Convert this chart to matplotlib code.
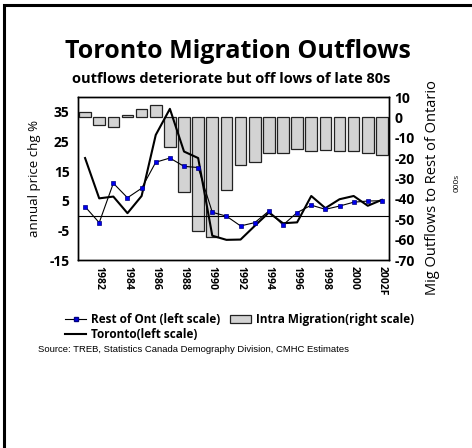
import matplotlib
matplotlib.use("Agg")
import matplotlib.pyplot as plt
import numpy as np
from matplotlib.patches import Rectangle
from matplotlib.lines import Line2D
from matplotlib.patches import Patch

years = ["1981", "1982", "1983", "1984", "1985", "1986", "1987", "1988", "1989", "1990", "1991",
         "1992", "1993", "1994", "1995", "1996", "1997", "1998", "1999", "2000", "2001", "2002F"]
rest_of_ont = [3.0, -2.4, 10.9, 6.0, 9.2, 18.0, 19.4, 16.6, 16.2, 1.1, -0.2,
               -3.5, -2.4, 1.5, -3.2, 1.0, 3.5, 2.1, 3.2, 4.5, 4.9, 5.0]
toronto = [19.4, 5.8, 6.4, 0.8, 6.6, 27.2, 36.0, 21.6, 19.4, -6.8, -8.2,
           -8.1, -3.5, 1.0, -2.6, -2.3, 6.6, 2.5, 5.5, 6.6, 3.3, 5.3]
intra_migration = [2.5, -3.6, -4.7, 1.1, 4.2, 6.2, -14.4, -36.6, -55.8, -58.7, -35.7,
                   -23.5, -21.7, -17.7, -17.7, -15.4, -16.7, -16.2, -16.7, -16.5, -17.3, -18.6]
tick_labels = ["1982", "1984", "1986", "1988", "1990", "1992", "1994", "1996", "1998", "2000", "2002F"]
left_ticks = [-15, -5, 5, 15, 25, 35]
right_ticks = [10, 0, -10, -20, -30, -40, -50, -60, -70]

plt.rcParams['font.family'] = ['Open Sans', 'DejaVu Sans']

fig = plt.figure(figsize=(4.72, 4.48), dpi=100)
W, H = 472, 448

# outer frame (only top and left visible)
fig.patches.append(Rectangle((4 / W, -0.1), 1.2, 1 - 5 / H + 0.1, transform=fig.transFigure,
                             fill=False, edgecolor='black', linewidth=2.2))

ax = fig.add_axes([78 / W, 1 - 260 / H, (389 - 78) / W, (260 - 97) / H])
ax2 = ax.twinx()

x = np.arange(len(years))
ax2.bar(x, intra_migration, width=0.82, color='#d3d3d3', edgecolor='#222222', linewidth=0.9)
ax2.set_ylim(-70, 10)
ax2.set_yticks(right_ticks)
ax2.set_yticklabels([str(t) for t in right_ticks], fontsize=10, fontweight='bold')
ax2.tick_params(axis='y', length=0, pad=4)

ax.set_zorder(ax2.get_zorder() + 1)
ax.patch.set_visible(False)
ax.axhline(0, color='black', linewidth=0.8)
ax.plot(x, toronto, color='black', linewidth=1.5)
ax.plot(x, rest_of_ont, color='black', linewidth=0.8, marker='s', markersize=3.5,
        markerfacecolor='#0000ee', markeredgecolor='#000080', markeredgewidth=0.5)
ax.set_ylim(-15, 40)
ax.set_xlim(-0.5, len(years) - 0.5)
ax.set_yticks(left_ticks)
ax.set_yticklabels([str(t) for t in left_ticks], fontsize=10, fontweight='bold')
ax.tick_params(axis='y', length=0, pad=6)
ax.set_xticks(x[1::2])
ax.set_xticklabels(tick_labels, rotation=270, fontsize=7.5, fontweight='bold')
ax.tick_params(axis='x', length=0, pad=4)
for a in (ax, ax2):
    for s in a.spines.values():
        s.set_linewidth(1.0)
        s.set_color('black')

ax.set_ylabel("annual price chg %", fontsize=9.5, labelpad=6)
fig.text(433 / W, 1 - 188 / H, "Mig Outflows to Rest of Ontario", rotation=90,
         ha='center', va='center', fontsize=10.5)
fig.text(457 / W, 1 - 183 / H, "000s", rotation=90, ha='center', va='center', fontsize=6)

fig.text(238 / W, 1 - 52 / H, "Toronto Migration Outflows", ha='center', va='center',
         fontsize=18, fontweight='bold')
fig.text(231 / W, 1 - 79 / H, "outflows deteriorate but off lows of late 80s", ha='center',
         va='center', fontsize=10.5, fontweight='bold')

handles = [Line2D([], [], color='black', linewidth=0.8, marker='s', markersize=3,
                  markerfacecolor='#0000ee', markeredgecolor='#000080'),
           Line2D([], [], color='black', linewidth=1.5),
           Patch(facecolor='#d3d3d3', edgecolor='#222222', linewidth=0.9)]
labels = ["Rest of Ont (left scale)", "Toronto(left scale)", "Intra Migration(right scale)"]
leg = fig.legend(handles, labels, ncol=2, loc='upper left', bbox_to_anchor=(58 / W, 1 - 306 / H),
                 frameon=False, prop={'size': 8.5, 'weight': 'bold'}, handlelength=1.8,
                 handletextpad=0.4, columnspacing=0.8, labelspacing=0.15, borderpad=0.1)

fig.text(38 / W, 1 - 349 / H, "Source: TREB, Statistics Canada Demography Division, CMHC Estimates",
         ha='left', va='center', fontsize=6.8, family=['Liberation Sans', 'DejaVu Sans'])

fig.savefig("out.png", dpi=100)
